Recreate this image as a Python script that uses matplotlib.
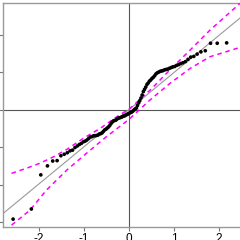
import numpy as np
import matplotlib
matplotlib.use("Agg")
import matplotlib.pyplot as plt

plt.rcParams['font.family'] = ['Liberation Sans', 'DejaVu Sans']

# theoretical quantiles (x) and sorted sample values (y)
theo_q = [-2.576, -2.170, -1.960, -1.812, -1.695, -1.598, -1.514, -1.440, -1.372, -1.311,
          -1.254, -1.200, -1.150, -1.103, -1.058, -1.015, -0.974, -0.935, -0.896, -0.860,
          -0.824, -0.789, -0.755, -0.722, -0.690, -0.659, -0.628, -0.598, -0.568, -0.539,
          -0.510, -0.482, -0.454, -0.426, -0.399, -0.372, -0.345, -0.319, -0.292, -0.266,
          -0.240, -0.215, -0.189, -0.164, -0.138, -0.113, -0.088, -0.063, -0.038, -0.013,
          0.013, 0.038, 0.063, 0.088, 0.113, 0.138, 0.164, 0.189, 0.215, 0.240,
          0.266, 0.292, 0.319, 0.345, 0.372, 0.399, 0.426, 0.454, 0.482, 0.510,
          0.539, 0.568, 0.598, 0.628, 0.659, 0.690, 0.722, 0.755, 0.789, 0.824,
          0.860, 0.896, 0.935, 0.974, 1.015, 1.058, 1.103, 1.150, 1.200, 1.254,
          1.311, 1.372, 1.440, 1.514, 1.598, 1.695, 1.812, 1.960, 2.170]
sample_q = [-2.91, -2.64, -1.73, -1.49, -1.36, -1.35, -1.22, -1.18, -1.14, -1.09,
            -1.07, -1.00, -0.96, -0.92, -0.89, -0.85, -0.83, -0.80, -0.76, -0.72,
            -0.71, -0.69, -0.685, -0.68, -0.67, -0.64, -0.63, -0.61, -0.57, -0.53,
            -0.51, -0.48, -0.45, -0.41, -0.36, -0.32, -0.29, -0.28, -0.27, -0.24,
            -0.22, -0.21, -0.20, -0.19, -0.17, -0.16, -0.15, -0.13, -0.115, -0.10,
            -0.08, -0.067, -0.053, -0.027, 0.0, 0.027, 0.053, 0.12, 0.19, 0.25,
            0.32, 0.40, 0.49, 0.55, 0.61, 0.68, 0.72, 0.77, 0.80, 0.84,
            0.87, 0.91, 0.96, 0.99, 1.01, 1.03, 1.04, 1.05, 1.07, 1.08,
            1.09, 1.11, 1.13, 1.15, 1.16, 1.19, 1.21, 1.24, 1.26, 1.29,
            1.35, 1.41, 1.43, 1.49, 1.55, 1.58, 1.78, 1.78, 1.79]

# envelope
up_x = [-2.61, -2.27, -1.98, -1.68, -1.38, -1.02, -0.64, -0.27, 0.02, 0.47, 0.91, 1.36, 1.80, 2.39, 2.58]
up_y = [-1.69, -1.55, -1.42, -1.25, -1.05, -0.76, -0.49, -0.18, 0.04, 0.53, 1.07, 1.60, 2.13, 2.76, 2.98]
lo_x = [-2.61, -2.20, -1.83, -1.38, -0.94, -0.50, -0.02, 0.47, 0.91, 1.36, 1.80, 2.39, 2.58]
lo_y = [-3.07, -2.67, -2.13, -1.60, -1.15, -0.71, -0.27, 0.27, 0.71, 1.11, 1.42, 1.64, 1.70]

line_intercept = 0.01
line_slope = 0.99
x_ticks = [-2, -1, 0, 1, 2]
y_ticks = [-3, -2, -1, 0, 1, 2]

fig = plt.figure(figsize=(2.4, 2.4), dpi=100)
ax = fig.add_axes([3/240, 13/240, 252/240, 224/240])
ax.set_xlim(-2.8, 2.8)
ax.set_ylim(-3.12, 2.853)

ax.axhline(0, color='#555555', lw=0.8, zorder=1)
ax.axvline(0, color='#555555', lw=0.8, zorder=1)
ax.axline((0, line_intercept), slope=line_slope, color='#999999', lw=0.8, zorder=2)
ax.plot(up_x, up_y, color='#ff00ff', lw=1.1, ls=(0, (3, 2.5)), zorder=3)
ax.plot(lo_x, lo_y, color='#ff00ff', lw=1.1, ls=(0, (3, 2.5)), zorder=3)
ax.scatter(theo_q, sample_q, s=7, color='black', edgecolors='none', zorder=4)

for s in ax.spines.values():
    s.set_color('#999999')
    s.set_linewidth(1.0)
ax.set_xticks(x_ticks)
ax.set_xticklabels([str(t) for t in x_ticks])
ax.set_yticks(y_ticks)
ax.set_yticklabels([])
ax.tick_params(axis='both', length=3, width=0.8, color='#777777', labelsize=8.5, pad=1.5)

fig.savefig("out.png", dpi=100)
